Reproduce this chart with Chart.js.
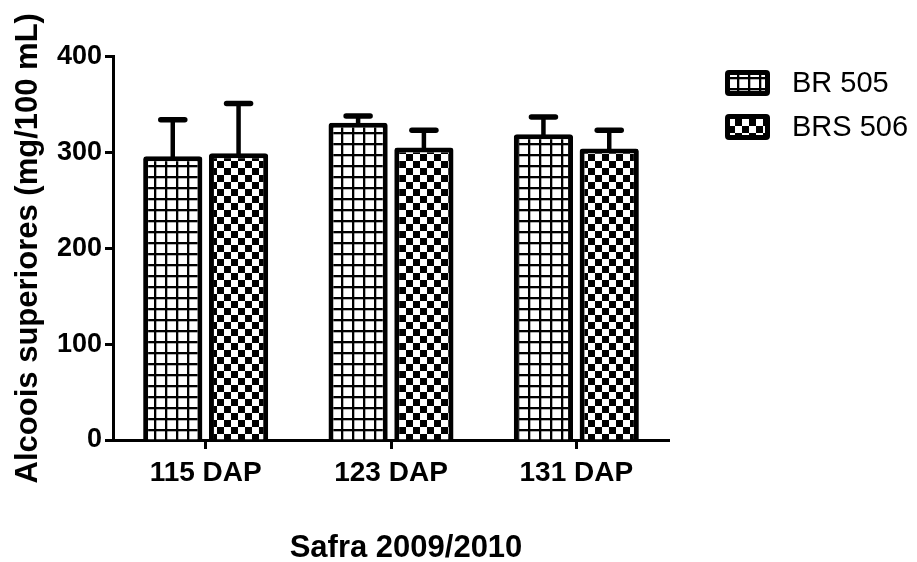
<!DOCTYPE html>
<html>
<head>
<meta charset="utf-8">
<script src="https://cdn.jsdelivr.net/npm/chart.js@4.4.0/dist/chart.umd.min.js"></script>
<style>
  html, body { margin: 0; padding: 0; background: #fff; }
  #wrap { width: 917px; height: 562px; position: relative; }
</style>
</head>
<body>
<div id="wrap"><canvas id="c"></canvas></div>
<script>
// Alcoois superiores por época de colheita (dias após plantio)
const categories = ['115 DAP', '123 DAP', '131 DAP'];
const seriesNames = ['BR 505', 'BRS 506'];
const br505 = [296, 331, 319];
const brs506 = [299, 305, 304];
const br505Sd = [38, 7, 18];
const brs506Sd = [52, 18, 19];
const yTicks = [0, 100, 200, 300, 400];
const yTitle = 'Alcoois superiores (mg/100 mL)';
const xTitle = 'Safra 2009/2010';

const FONT = '"Liberation Sans", Arial, Helvetica, sans-serif';

// fill patterns: square grid and checkerboard
function gridPattern() {
  const c = document.createElement('canvas');
  c.width = 11; c.height = 11;
  const g = c.getContext('2d');
  g.fillStyle = '#fff'; g.fillRect(0, 0, 11, 11);
  g.fillStyle = '#000';
  g.fillRect(0, 0, 2.3, 11);
  g.fillRect(0, 0, 11, 2.3);
  return g.createPattern(c, 'repeat');
}
function checkerPattern() {
  const c = document.createElement('canvas');
  c.width = 14; c.height = 14;
  const g = c.getContext('2d');
  g.fillStyle = '#fff'; g.fillRect(0, 0, 14, 14);
  g.fillStyle = '#000';
  g.fillRect(0, 0, 7, 7);
  g.fillRect(7, 7, 7, 7);
  return g.createPattern(c, 'repeat');
}

const errorBars = {
  id: 'errorBars',
  afterDatasetsDraw(chart) {
    const { ctx, scales: { y } } = chart;
    chart.data.datasets.forEach((ds, i) => {
      const meta = chart.getDatasetMeta(i);
      meta.data.forEach((bar, j) => {
        const top = y.getPixelForValue(ds.data[j] + ds.errors[j]);
        ctx.save();
        ctx.strokeStyle = '#000';
        ctx.lineWidth = 4.5;
        ctx.beginPath();
        ctx.moveTo(bar.x, bar.y + 1);
        ctx.lineTo(bar.x, top);
        ctx.stroke();
        ctx.lineWidth = 5.5;
        ctx.lineCap = 'round';
        ctx.beginPath();
        ctx.moveTo(bar.x - 12, top);
        ctx.lineTo(bar.x + 12, top);
        ctx.stroke();
        ctx.restore();
      });
    });
  }
};

const sideLegend = {
  id: 'sideLegend',
  afterDraw(chart) {
    const { ctx } = chart;
    chart.data.datasets.forEach((ds, i) => {
      const bx = 725, by = 70 + i * 44, bw = 45, bh = 26;
      ctx.save();
      ctx.fillStyle = '#000';
      ctx.beginPath();
      ctx.roundRect(bx, by, bw, bh, 4);
      ctx.fill();
      ctx.fillStyle = ds.backgroundColor;
      ctx.fillRect(bx + 5, by + 5, bw - 10, bh - 10);
      ctx.fillStyle = '#000';
      ctx.font = '29px ' + FONT;
      ctx.textBaseline = 'middle';
      ctx.textAlign = 'left';
      ctx.fillText(ds.label, 792, by + bh / 2 + 1);
      ctx.restore();
    });
  }
};

const bottomTitle = {
  id: 'bottomTitle',
  afterDraw(chart) {
    const { ctx } = chart;
    ctx.save();
    ctx.fillStyle = '#000';
    ctx.font = 'bold 31px ' + FONT;
    ctx.textAlign = 'center';
    ctx.textBaseline = 'middle';
    ctx.fillText(xTitle, 406, 548);
    ctx.restore();
  }
};

const canvas = document.getElementById('c');
const pGrid = gridPattern();
const pChecker = checkerPattern();

new Chart(canvas, {
  type: 'bar',
  data: {
    labels: categories,
    datasets: [
      { label: seriesNames[0], data: br505, errors: br505Sd, backgroundColor: pGrid },
      { label: seriesNames[1], data: brs506, errors: brs506Sd, backgroundColor: pChecker }
    ]
  },
  options: {
    responsive: true,
    maintainAspectRatio: false,
    animation: false,
    devicePixelRatio: 1,
    layout: { padding: { left: 0, right: 248, top: 56.5, bottom: 0 } },
    datasets: {
      bar: {
        borderColor: '#000',
        borderWidth: 5,
        borderRadius: 3,
        borderSkipped: 'start',
        categoryPercentage: 0.71,
        barPercentage: 0.9
      }
    },
    plugins: {
      legend: { display: false },
      tooltip: { enabled: false }
    },
    scales: {
      x: {
        grid: {
          display: true, drawOnChartArea: false, offset: false,
          tickLength: 9, tickWidth: 3, tickColor: '#000', color: '#000'
        },
        border: { display: true, color: '#000', width: 3 },
        ticks: { color: '#000', padding: 7, font: { family: FONT, size: 28, weight: 'bold' } },
        afterFit(s) { s.height = 122; }
      },
      y: {
        min: 0, max: 400,
        afterBuildTicks(s) { s.ticks = yTicks.map(v => ({ value: v })); },
        grid: {
          display: true, drawOnChartArea: false,
          tickLength: 8, tickWidth: 3, tickColor: '#000', color: '#000'
        },
        border: { display: true, color: '#000', width: 3 },
        ticks: { color: '#000', padding: 3, font: { family: FONT, size: 27, weight: 'bold' } },
        title: {
          display: true, text: yTitle, color: '#000',
          font: { family: FONT, size: 31, weight: 'bold' },
          padding: { top: 10, bottom: 0 }
        },
        afterFit(s) { s.width = 113; }
      }
    }
  },
  plugins: [errorBars, sideLegend, bottomTitle]
});
</script>
</body>
</html>
